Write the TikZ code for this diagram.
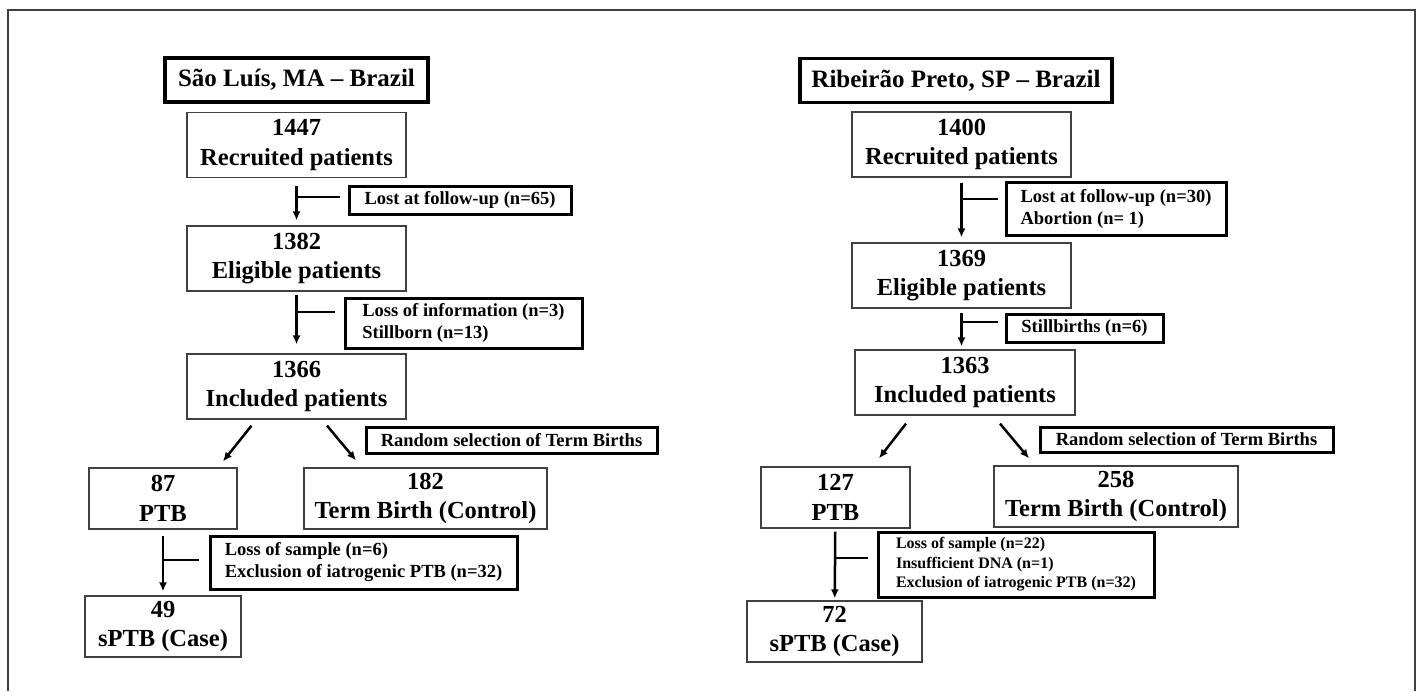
\documentclass[tikz,border=0pt]{standalone}
\usepackage{fontspec}
\setmainfont{Liberation Serif}
\usetikzlibrary{arrows.meta}

\tikzset{
  bigbox/.style={draw=black!75, line width=1.3pt, inner sep=0pt, align=center,
    minimum width=219pt, minimum height=65pt, font=\fontsize{24.5}{29.5}\selectfont\bfseries},
  notebox/.style={draw=black, line width=3pt, inner sep=0pt, align=left,
    font=\fontsize{18.5}{22}\selectfont\bfseries},
  titlebox/.style={draw=black, line width=3.5pt, inner sep=0pt, align=center,
    minimum height=44pt, font=\fontsize{25}{30}\selectfont\bfseries},
  flow/.style={line width=2.5pt, -{Latex[length=9pt,width=8pt]}},
  stem/.style={line width=2.5pt},
}

\begin{document}
\begin{tikzpicture}[x=1pt,y=-1pt]
	\useasboundingbox (0,0) rectangle (1419,691);
	% outer frame
	\draw [black!75, line width=2pt] (8,691) -- (8,10) -- (1415,10) -- (1415,691);

	% Sao Luis
	\node [titlebox, minimum width=263pt] (titleL) at (296.5,80) {São Luís, MA -- Brazil};
	\node [bigbox] (recL) at (296.5,145) {1447\\Recruited patients};
	\node [notebox, minimum width=222pt, minimum height=28pt] (lostL) at (460,200) {Lost at follow-up (n=65)};
	\node [bigbox] (eligL) at (296.5,258.5) {1382\\Eligible patients};
	\node [notebox, minimum width=237pt, minimum height=50pt] (lossL) at (463.5,323) {Loss of information (n=3)\\Stillborn (n=13)};
	\node [bigbox] (inclL) at (296.5,386.5) {1366\\Included patients};
	\node [notebox, minimum width=291pt, minimum height=26pt] (randL) at (511.5,440) {Random selection of Term Births};
	\node [bigbox, minimum width=148pt, minimum height=61pt] (ptbL) at (163,498.5) {87\\PTB};
	\node [bigbox, minimum width=243pt, minimum height=61pt] (termL) at (425.5,498.5) {182\\Term Birth (Control)};
	\node [notebox, minimum width=307pt, minimum height=53pt] (sampL) at (363.5,562.5) {Loss of sample (n=6)\\Exclusion of iatrogenic PTB (n=32)};
	\node [bigbox, minimum width=156pt, minimum height=61pt] (caseL) at (163,626.5) {49\\sPTB (Case)};

	\draw [flow, shorten <=8pt, shorten >=5pt] (recL) -- (eligL);
	\coordinate (jL1) at (recL.south |- lostL.west);
	\draw [stem] ([yshift=3pt]jL1) -- ([shift={(-8pt,3pt)}]lostL.west);
	\draw [flow, shorten <=3pt, shorten >=9pt] (eligL) -- (inclL);
	\coordinate (jL2) at (eligL.south |- lossL.west);
	\draw [stem] ([yshift=11pt]jL2) -- ([shift={(-9pt,11pt)}]lossL.west);
	\draw [flow] ([shift={(-45pt,-6pt)}]inclL.south) -- ([shift={(60pt,6pt)}]ptbL.north);
	\draw [flow] ([shift={(30.5pt,-6pt)}]inclL.south) -- ([shift={(-69.5pt,7pt)}]termL.north);
	\draw [flow, shorten <=6pt, shorten >=4pt] (ptbL) -- (caseL);
	\coordinate (jL3) at (ptbL.south |- sampL.west);
	\draw [stem] ([yshift=2.5pt]jL3) -- ([shift={(-10pt,2.5pt)}]sampL.west);

	% Ribeirao Preto
	\node [titlebox, minimum width=312pt] (titleR) at (956,80.5) {Ribeirão Preto, SP -- Brazil};
	\node [bigbox] (recR) at (961.5,144.5) {1400\\Recruited patients};
	\node [notebox, minimum width=220pt, minimum height=53pt] (lostR) at (1116,208.5) {Lost at follow-up (n=30)\\Abortion (n= 1)};
	\node [bigbox] (eligR) at (961.5,275.5) {1369\\Eligible patients};
	\node [notebox, minimum width=157pt, minimum height=28pt] (stillR) at (1084.5,328) {Stillbirths (n=6)};
	\node [bigbox, minimum width=220pt] (inclR) at (965,382.5) {1363\\Included patients};
	\node [notebox, minimum width=293pt, minimum height=25pt] (randR) at (1186.5,439.5) {Random selection of Term Births};
	\node [bigbox, minimum width=149pt, minimum height=61pt] (ptbR) at (835.5,497.5) {127\\PTB};
	\node [bigbox, minimum width=244pt, minimum height=61pt] (termR) at (1116,496.5) {258\\Term Birth (Control)};
	\node [notebox, minimum width=276pt, minimum height=65pt, font=\fontsize{16}{19.5}\selectfont\bfseries] (sampR) at (1016,564.5) {Loss of sample (n=22)\\Insufficient DNA (n=1)\\Exclusion of iatrogenic PTB (n=32)};
	\node [bigbox, minimum width=175pt, minimum height=61pt] (caseR) at (834.5,631.5) {72\\sPTB (Case)};

	\draw [flow, shorten <=5pt, shorten >=5pt] (recR) -- (eligR);
	\coordinate (jR1) at (recR.south |- lostR.west);
	\draw [stem] ([yshift=9.5pt]jR1) -- ([shift={(-7pt,9.5pt)}]lostR.west);
	\draw [flow, shorten <=4pt, shorten >=3pt] (eligR.south) -- (eligR.south |- inclR.north);
	\coordinate (jR2) at (eligR.south |- stillR.west);
	\draw [stem] ([yshift=6pt]jR2) -- ([shift={(-7pt,6pt)}]stillR.west);
	\draw [flow] ([shift={(-59pt,-8pt)}]inclR.south) -- ([shift={(43.5pt,8pt)}]ptbR.north);
	\draw [flow] ([shift={(35pt,-8pt)}]inclR.south) -- ([shift={(-87pt,7pt)}]termR.north);
	\draw [flow, shorten <=3pt, shorten >=2pt] (ptbR) -- (caseR);
	\coordinate (jR3) at (ptbR.south |- sampR.west);
	\draw [stem] ([yshift=6.5pt]jR3) -- ([shift={(-9pt,6.5pt)}]sampR.west);
\end{tikzpicture}
\end{document}
